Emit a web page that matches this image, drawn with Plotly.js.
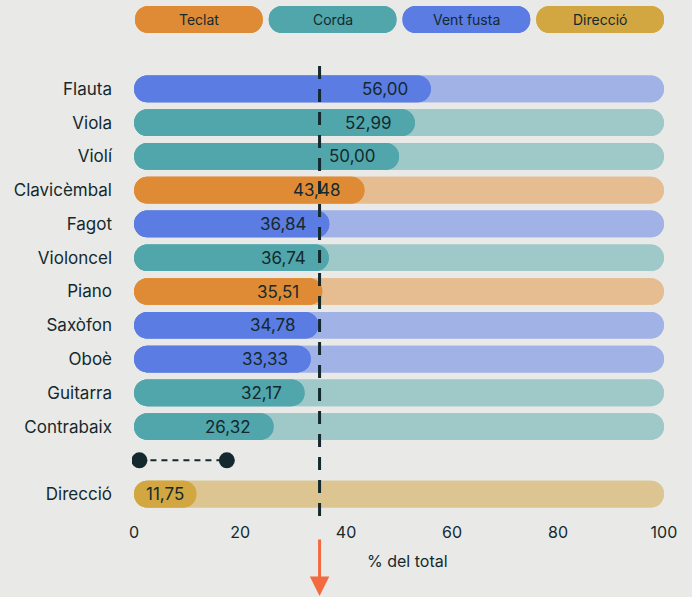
<!DOCTYPE html>
<html>
<head>
<meta charset="utf-8">
<script src="https://cdn.plot.ly/plotly-3.0.1.min.js"></script>
<style>
html,body{margin:0;padding:0;background:#E9E9E7;}
#chart{width:692px;height:597px;}
</style>
</head>
<body>
<div id="chart"></div>
<script>
// ---- data ----
const instruments = ['Flauta','Viola','Violí','Clavicèmbal','Fagot','Violoncel','Piano','Saxòfon','Oboè','Guitarra','Contrabaix','Direcció'];
const values = [56.00, 52.99, 50.00, 43.48, 36.84, 36.74, 35.51, 34.78, 33.33, 32.17, 26.32, 11.75];
const groups = ['Vent fusta','Corda','Corda','Teclat','Vent fusta','Corda','Teclat','Vent fusta','Vent fusta','Corda','Corda','Direcció'];
const legendGroups = ['Teclat','Corda','Vent fusta','Direcció'];
const spacer = ' ';
const referenceValue = 35;
const totalValue = 100;
const dumbbellX = [1, 17.5];

// ---- styles ----
const strong = {'Teclat':'#DF8B35','Corda':'#50A6AB','Vent fusta':'#5B7CE2','Direcció':'#D2A640'};
const light  = {'Teclat':'#E6BD90','Corda':'#9FC8C9','Vent fusta':'#A1B2E6','Direcció':'#DCC591'};
const dark = '#14292D';
const bg = '#E9E9E7';
const font = 'Inter, "Noto Sans", sans-serif';

const W = 692, H = 597;
const mL = 132, mR = 27, mT = 4, mB = 86;
const plotH = H - mT - mB;
const py = px => (H - mB - px) / plotH; // pixel y -> paper y

const catOrder = instruments.slice(0, instruments.length - 1).concat([spacer, instruments[instruments.length - 1]]);

const R = 13;
const barW = 0.79;

// a pill = a forward bar (rounded at its far end) + a reversed bar (rounded at its start)
function pillBars(starts, lengths, colors, yvals, xa, ya, width) {
  const common = {type:'bar', orientation:'h', y:yvals, width:width,
    marker:{color:colors, cornerradius:R, line:{width:0}}, hoverinfo:'skip', showlegend:false,
    xaxis:xa, yaxis:ya, textposition:'none'};
  return [
    Object.assign({}, common, {base: starts.map((s, i) => s + lengths[i]), x: lengths.map(l => -l)}),
    Object.assign({}, common, {base: starts.slice(), x: lengths.slice()})
  ];
}

const traces = [];
traces.push(...pillBars(instruments.map(() => 0), instruments.map(() => totalValue), groups.map(g => light[g]), instruments, 'x', 'y', barW));
traces.push(...pillBars(instruments.map(() => 0), values, groups.map(g => strong[g]), instruments, 'x', 'y', barW));
// dumbbell separator
traces.push({type:'scatter', mode:'lines+markers', x:dumbbellX, y:[spacer, spacer],
  line:{color:dark, width:2, dash:'6px,5px'}, marker:{size:16, color:dark},
  hoverinfo:'skip', showlegend:false, xaxis:'x', yaxis:'y'});

// legend pills (second subplot, pixel-scaled x axis)
const pillStart = 135, pillStep = 133.75, pillWidth = 127.75;
const pillStarts = legendGroups.map((g, i) => pillStart + i * pillStep);
const pillCenters = pillStarts.map(s => s + pillWidth / 2);
traces.push(...pillBars(pillStarts, legendGroups.map(() => pillWidth), legendGroups.map(g => strong[g]),
  legendGroups.map(() => 0), 'x2', 'y2', 1));

const annotations = [];
values.forEach((v, i) => {
  const txt = v.toFixed(2).replace('.', ',');
  if (v < 15) {
    annotations.push({x: v / 2, y: instruments[i], xref:'x', yref:'y', text: txt, showarrow:false,
      xanchor:'center', yanchor:'middle', font:{family:font, size:17, color:dark}});
  } else {
    annotations.push({x: v, y: instruments[i], xref:'x', yref:'y', text: txt, showarrow:false,
      xanchor:'right', yanchor:'middle', xshift:-21, font:{family:font, size:17, color:dark}});
  }
});
legendGroups.forEach((g, i) => {
  annotations.push({x: pillCenters[i], y: 0, xref:'x2', yref:'y2', text: g, showarrow:false,
    xanchor:'center', yanchor:'middle', font:{family:font, size:14, color:dark}});
});
annotations.push({x: (407 - mL) / (W - mL - mR), y: py(561), xref:'paper', yref:'paper', text:'% del total',
  showarrow:false, xanchor:'center', yanchor:'middle', font:{family:font, size:16, color:dark}});
annotations.push({x: referenceValue, y: py(598), xref:'x', yref:'paper', ax:0, ay:-60, axref:'pixel', ayref:'pixel',
  text:'', showarrow:true, arrowhead:2, arrowsize:1.3, arrowwidth:3, arrowcolor:'#F26A3F'});

const layout = {
  width: W, height: H,
  paper_bgcolor: bg, plot_bgcolor: bg,
  margin: {l:mL, r:mR, t:mT, b:mB},
  barmode: 'overlay',
  showlegend: false,
  font: {family: font, color: dark},
  xaxis: {domain:[0,1], range:[-0.4,100.2], tickvals:[0,20,40,60,80,100], ticktext:['0','20','40','60','80','100'],
    showgrid:false, zeroline:false, showline:false, ticks:'', ticklabelstandoff:10,
    tickfont:{family:font, size:16, color:dark}, fixedrange:true, anchor:'y'},
  yaxis: {domain:[0, py(72)], type:'category', categoryorder:'array', categoryarray:catOrder,
    range:[catOrder.length - 0.5, -0.5], showgrid:false, zeroline:false, showline:false, ticks:'',
    ticklabelstandoff:19, tickfont:{family:font, size:17, color:dark}, fixedrange:true, anchor:'x'},
  xaxis2: {domain:[0,1], range:[mL, W - mR], visible:false, anchor:'y2', fixedrange:true},
  yaxis2: {domain:[py(33), py(6)], range:[-0.5,0.5], visible:false, anchor:'x2', fixedrange:true},
  shapes: [
    {type:'line', xref:'x', yref:'paper', x0:referenceValue, x1:referenceValue, y0:py(516), y1:py(60),
     line:{color:dark, width:3, dash:'13px,10px'}, layer:'above'}
  ],
  annotations: annotations
};

Plotly.newPlot('chart', traces, layout, {displayModeBar:false, staticPlot:true});
</script>
</body>
</html>
